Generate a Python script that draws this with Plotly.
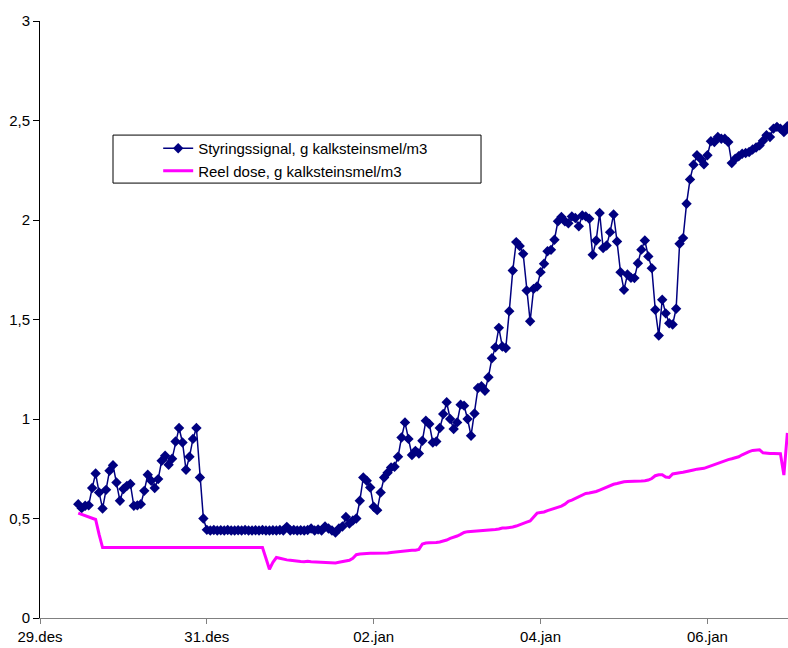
import pandas as pd
import plotly.graph_objects as go

# hourly readings starting 29.des 11:00
start_time = "2004-12-29 11:00"

styringssignal = [
    0.572, 0.552, 0.564, 0.566, 0.653, 0.726, 0.631, 0.55, 0.644, 0.74,
    0.768, 0.681, 0.589, 0.648, 0.664, 0.673, 0.564, 0.566, 0.572, 0.639,
    0.72, 0.69, 0.653, 0.698, 0.79, 0.815, 0.77, 0.8, 0.887, 0.955,
    0.882, 0.745, 0.81, 0.9, 0.955, 0.706, 0.5,
    0.443, 0.44, 0.442, 0.44, 0.441, 0.44, 0.442, 0.44, 0.44, 0.441,
    0.44, 0.442, 0.44, 0.44, 0.441, 0.44, 0.442, 0.44, 0.44, 0.441,
    0.44, 0.442, 0.44,
    0.458, 0.44, 0.442, 0.44, 0.441, 0.44, 0.442,
    0.45, 0.44, 0.445, 0.44, 0.46, 0.45, 0.44, 0.43, 0.45, 0.46,
    0.508, 0.475, 0.49, 0.5, 0.589, 0.706, 0.69, 0.656, 0.559, 0.542,
    0.631, 0.706, 0.73, 0.756, 0.76, 0.81, 0.907, 0.983, 0.9, 0.819,
    0.84, 0.827, 0.891, 0.991, 0.975, 0.882, 0.887, 0.955, 1.025, 1.084,
    1.0, 0.95, 0.983, 1.072, 1.067, 1.0, 0.916, 1.028, 1.156, 1.165,
    1.142, 1.21, 1.305, 1.36, 1.458, 1.364, 1.357, 1.542, 1.746, 1.889,
    1.869, 1.83, 1.646, 1.491, 1.654, 1.666, 1.738, 1.78, 1.843, 1.85,
    1.901, 1.994, 2.015, 1.994, 1.984, 2.018, 2.01, 1.968, 2.023, 2.018,
    2.006, 1.825, 1.897, 2.035, 1.859, 1.872, 1.939, 2.028, 1.892, 1.738,
    1.649, 1.726, 1.71, 1.708, 1.783, 1.851, 1.897, 1.817, 1.758, 1.549,
    1.419, 1.599, 1.531, 1.481, 1.475, 1.554, 1.881, 1.909, 2.082, 2.204,
    2.278, 2.325, 2.308, 2.28, 2.325, 2.396, 2.392, 2.417, 2.408, 2.408,
    2.392, 2.286, 2.308, 2.32, 2.333, 2.337, 2.342, 2.354, 2.364, 2.375,
    2.398, 2.426, 2.417, 2.459, 2.468, 2.459, 2.442, 2.471,
]

reel_dose = [
    0.527, 0.52, 0.513, 0.507, 0.5, 0.495, 0.42, 0.354, 0.354, 0.354,
    0.354, 0.354, 0.354, 0.354, 0.354, 0.354, 0.354, 0.354, 0.354, 0.354,
    0.354, 0.354, 0.354, 0.354, 0.354, 0.354, 0.354, 0.354, 0.354, 0.354,
    0.354, 0.354, 0.354, 0.354, 0.354, 0.354, 0.354, 0.354, 0.354, 0.354,
    0.354, 0.354, 0.354, 0.354, 0.354, 0.354, 0.354, 0.354, 0.354, 0.354,
    0.354, 0.354, 0.354, 0.354, 0.30, 0.245, 0.28, 0.304, 0.3, 0.295,
    0.292, 0.29, 0.287, 0.285, 0.284, 0.283, 0.285, 0.283, 0.282, 0.28,
    0.279, 0.278, 0.277, 0.276, 0.277, 0.28, 0.283, 0.287, 0.29, 0.3,
    0.318, 0.322, 0.324, 0.325, 0.326, 0.325, 0.325, 0.326, 0.326, 0.327,
    0.329, 0.331, 0.335, 0.337, 0.338, 0.339, 0.34, 0.341, 0.345, 0.372,
    0.377, 0.378, 0.378, 0.38, 0.382, 0.386, 0.392, 0.4, 0.405, 0.412,
    0.42, 0.43, 0.434, 0.435, 0.436, 0.437, 0.438, 0.439, 0.44, 0.442,
    0.445, 0.447, 0.452, 0.452, 0.453, 0.457, 0.462, 0.47, 0.476, 0.482,
    0.488, 0.51, 0.527, 0.53, 0.533, 0.54, 0.546, 0.55, 0.556, 0.562,
    0.572, 0.586, 0.592, 0.6, 0.612, 0.62, 0.626, 0.628, 0.631, 0.636,
    0.643, 0.65, 0.658, 0.667, 0.672, 0.676, 0.681, 0.685, 0.686, 0.686,
    0.686, 0.687, 0.688, 0.69, 0.693, 0.701, 0.715, 0.72, 0.72, 0.708,
    0.706, 0.724, 0.728, 0.73, 0.732, 0.735, 0.74, 0.744, 0.748, 0.75,
    0.752, 0.758, 0.765, 0.772, 0.778, 0.785, 0.79, 0.796, 0.8, 0.805,
    0.81, 0.82, 0.83, 0.836, 0.842, 0.845, 0.845, 0.83, 0.827, 0.827,
    0.827, 0.827, 0.826, 0.718, 0.93,
]

tick_dates = ["2004-12-29", "2004-12-31", "2005-01-02", "2005-01-04", "2005-01-06"]
tick_labels = ["29.des", "31.des", "02.jan", "04.jan", "06.jan"]
y_ticks = [0, 0.5, 1, 1.5, 2, 2.5, 3]

series_names = ["Styringssignal, g kalksteinsmel/m3", "Reel dose, g kalksteinsmel/m3"]

times = pd.date_range(start_time, periods=len(styringssignal), freq="h")
times2 = pd.date_range(start_time, periods=len(reel_dose), freq="h")

fig = go.Figure()
fig.add_trace(go.Scatter(
    x=times, y=styringssignal, name=series_names[0], mode="lines+markers",
    line=dict(color="#000080", width=1.5),
    marker=dict(symbol="diamond", size=8, color="#000080"),
))
fig.add_trace(go.Scatter(
    x=times2, y=reel_dose, name=series_names[1], mode="lines",
    line=dict(color="#FF00FF", width=3),
))

font = dict(family="Liberation Sans, Arial, sans-serif", size=15, color="black")

fig.update_layout(
    width=788, height=648,
    margin=dict(l=40, r=0, t=21, b=30, autoexpand=False),
    paper_bgcolor="white", plot_bgcolor="white",
    separators=", ",
    font=font,
    showlegend=True,
    legend=dict(
        x=0.158, y=0.814, xanchor="left", yanchor="top",
        bgcolor="rgba(0,0,0,0)", borderwidth=0,
        font=font,
    ),
    shapes=[dict(
        type="rect", xref="paper", yref="paper",
        x0=0.0976, x1=0.5896, y0=0.7285, y1=0.8089,
        line=dict(color="black", width=1), fillcolor="white", layer="below",
    )],
    xaxis=dict(
        range=["2004-12-29 00:00", "2005-01-06 23:11"],
        tickmode="array", tickvals=tick_dates, ticktext=tick_labels,
        showgrid=False, zeroline=False,
        showline=True, linecolor="#808080", linewidth=1,
        ticks="outside", ticklen=5, tickcolor="#808080",
        tickfont=font, automargin=False,
    ),
    yaxis=dict(
        range=[0, 3], tickmode="array", tickvals=y_ticks,
        showgrid=False, zeroline=False,
        showline=True, linecolor="black", linewidth=1,
        ticks="outside", ticklen=6, tickcolor="black",
        tickfont=font, automargin=False,
    ),
)

fig.write_html(
    "out.html",
    config={"displayModeBar": False},
    post_script="document.body.style.margin='0';document.body.style.overflow='hidden';",
)
